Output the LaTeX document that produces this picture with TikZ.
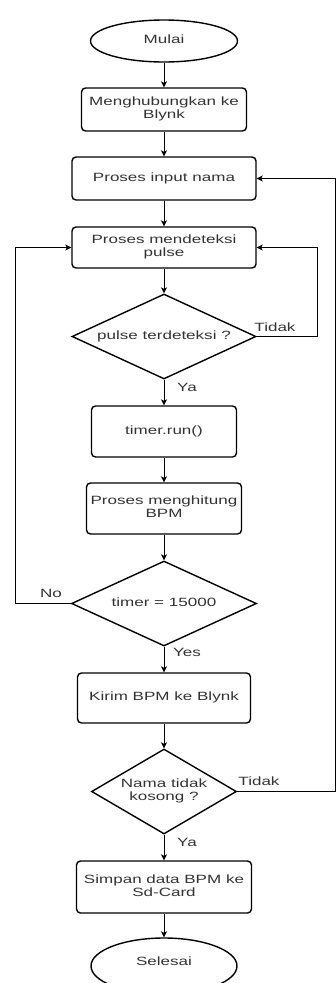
\documentclass[tikz,border=0pt]{standalone}
\usepackage{fontspec}
\setmainfont{Liberation Sans}
\usetikzlibrary{shapes.geometric,arrows.meta}
\newcommand{\sx}[1]{\scalebox{1.42}[1]{\begin{tabular}{@{}c@{}}#1\end{tabular}}}
\begin{document}
\begin{tikzpicture}[x=1pt,y=-1pt,
  every node/.style={font=\fontsize{12}{13}\selectfont, text=black!80},
  proc/.style={draw=black, rounded corners=4pt, line width=1.4pt, inner sep=0pt},
  term/.style={draw=black, ellipse, line width=1.4pt, inner sep=0pt},
  dec/.style={draw=black, diamond, line width=1.4pt, inner sep=0pt},
  conn/.style={draw=black, line width=0.9pt, -{Stealth[length=6pt,width=6pt,inset=1.5pt]}},
  lbl/.style={inner sep=0pt}]
\useasboundingbox (0,0) rectangle (336,983);

\node[term, minimum width=147pt, minimum height=42pt] (mulai) at (164,41) {\sx{Mulai}};
\node[proc, minimum width=165pt, minimum height=43pt] (b1) at (164,109.5) {\sx{Menghubungkan ke\\Blynk}};
\node[proc, minimum width=184pt, minimum height=43pt] (b2) at (164,178.5) {\sx{Proses input nama}};
\node[proc, minimum width=184pt, minimum height=41pt] (b3) at (164,247.5) {\sx{Proses mendeteksi\\pulse}};
\node[dec, minimum width=184pt, minimum height=85pt, label={center:\sx{pulse terdeteksi ?}}] (d1) at (164,336.5) {};
\node[proc, minimum width=145pt, minimum height=51pt] (b4) at (164,431.5) {\sx{timer.run()}};
\node[proc, minimum width=155pt, minimum height=51pt] (b5) at (164,508.5) {\sx{Proses menghitung\\BPM}};
\node[dec, minimum width=185pt, minimum height=85pt, label={center:\sx{timer = 15000}}] (d2) at (164,603.5) {};
\node[proc, minimum width=173pt, minimum height=50pt] (b6) at (164,698) {\sx{Kirim BPM ke Blynk}};
\node[dec, minimum width=145pt, minimum height=85pt, label={center:\sx{Nama tidak\\kosong ?}}] (d3) at (164,791.5) {};
\node[proc, minimum width=175pt, minimum height=52pt] (b7) at (164,887) {\sx{Simpan data BPM ke\\Sd-Card}};
\node[term, minimum width=146pt, minimum height=56pt, label={[yshift=3pt]center:\sx{Selesai}}] (sel) at (164,966) {};

\draw[conn] (mulai) -- (b1);
\draw[conn] (b1) -- (b2);
\draw[conn] (b2) -- (b3);
\draw[conn] (b3) -- (d1);
\draw[conn] (d1) -- (b4);
\draw[conn] (b4) -- (b5);
\draw[conn] (b5) -- (d2);
\draw[conn] (d2) -- (b6);
\draw[conn] (b6) -- (d3);
\draw[conn] (d3) -- (b7);
\draw[conn] (b7) -- (sel);

\coordinate (c1) at (317,247.5);
\coordinate (c2) at (15,247.5);
\coordinate (c3) at (335,178.5);
\draw[conn] (d1.east) -| (c1) -- (b3.east);
\draw[conn] (d2.west) -| (c2) -- (b3.west);
\draw[conn] (d3.east) -| (c3) -- (b2.east);

\node[lbl] (t1) at (275,329) {\sx{Tidak}};
\node[lbl] (y1) at (187,389) {\sx{Ya}};
\node[lbl] (n1) at (51,595) {\sx{No}};
\node[lbl] (y2) at (187,654) {\sx{Yes}};
\node[lbl] (t2) at (259,783) {\sx{Tidak}};
\node[lbl] (y3) at (187,844) {\sx{Ya}};
\end{tikzpicture}
\end{document}
